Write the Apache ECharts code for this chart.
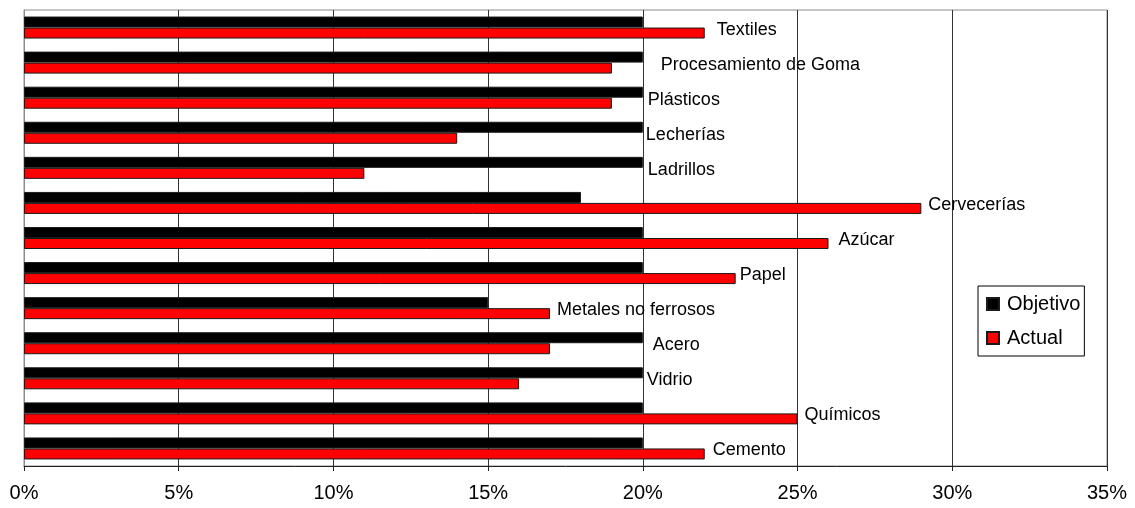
<!DOCTYPE html>
<html>
<head>
<meta charset="utf-8">
<script src="https://cdn.jsdelivr.net/npm/echarts@6/dist/echarts.min.js"></script>
<style>
html,body{margin:0;padding:0;background:#fff;}
#c{width:1135px;height:508px;}
</style>
</head>
<body>
<div id="c"></div>
<script>
// Categories listed top to bottom as in the picture
const categories = ["Textiles", "Procesamiento de Goma", "Plásticos", "Lecherías", "Ladrillos", "Cervecerías", "Azúcar", "Papel", "Metales no ferrosos", "Acero", "Vidrio", "Químicos", "Cemento"];
const objetivo = [20, 20, 20, 20, 20, 18, 20, 20, 15, 20, 20, 20, 20];
const actual   = [22, 19, 19, 14, 11, 29, 26, 23, 17, 17, 16, 25, 22];
const xTicks = [0, 5, 10, 15, 20, 25, 30, 35];
// label horizontal offsets (px) from the end of the longer bar (style only)
const labelDx = [12, 18, 5, 3, 5, 7, 10, 4, 7, 10, 4, 7, 8];

const FONT = "'Liberation Sans', Arial, sans-serif";
const labelAnchor = categories.map((c, i) => Math.max(objetivo[i], actual[i]));

const chart = echarts.init(document.getElementById('c'), null, {renderer: 'canvas'});
chart.setOption({
  animation: false,
  backgroundColor: '#fff',
  textStyle: {fontFamily: FONT},
  grid: {left: 24, top: 10, right: 28, bottom: 42, show: true, borderColor: '#8c8c8c', borderWidth: 1, containLabel: false},
  legend: {
    data: ['Objetivo', 'Actual'],
    orient: 'vertical',
    left: 978, top: 286,
    backgroundColor: '#fff',
    borderColor: '#000', borderWidth: 1,
    padding: [8, 4, 8, 8],
    itemGap: 14,
    itemWidth: 12, itemHeight: 12,
    icon: 'rect',
    textStyle: {fontSize: 20, color: '#000', fontFamily: FONT, padding: [0, 0, 0, 3]}
  },
  xAxis: {
    type: 'value', min: xTicks[0], max: xTicks[xTicks.length - 1], interval: 5,
    axisLine: {show: true, lineStyle: {color: '#222', width: 1}},
    axisTick: {show: true, length: 5, lineStyle: {color: '#222'}},
    axisLabel: {formatter: '{value}%', fontSize: 20, color: '#000', margin: 17, fontFamily: FONT},
    splitLine: {show: true, lineStyle: {color: '#333', width: 1}}
  },
  yAxis: {
    type: 'category', data: categories, inverse: true,
    axisLine: {show: true, lineStyle: {color: '#8c8c8c'}},
    axisTick: {show: false},
    axisLabel: {show: false},
    splitLine: {show: false}
  },
  series: [
    {
      name: 'Objetivo', type: 'bar', data: objetivo,
      barWidth: 11, barGap: '0%',
      itemStyle: {color: '#000', borderColor: '#1a1a1a', borderWidth: 1}
    },
    {
      name: 'Actual', type: 'bar', data: actual,
      barWidth: 11, barGap: '0%',
      itemStyle: {color: '#ff0000', borderColor: '#1a1a1a', borderWidth: 1}
    },
    {
      name: 'labels', type: 'scatter', symbolSize: 0, silent: true,
      data: labelAnchor.map((v, i) => ({
        value: v,
        label: {offset: [labelDx[i], 2]}
      })),
      label: {
        show: true, position: 'right', distance: 0,
        formatter: p => categories[p.dataIndex],
        fontSize: 18, color: '#000', opacity: 1, textBorderWidth: 0, fontFamily: FONT
      },
      z: 5
    }
  ]
});
</script>
</body>
</html>
